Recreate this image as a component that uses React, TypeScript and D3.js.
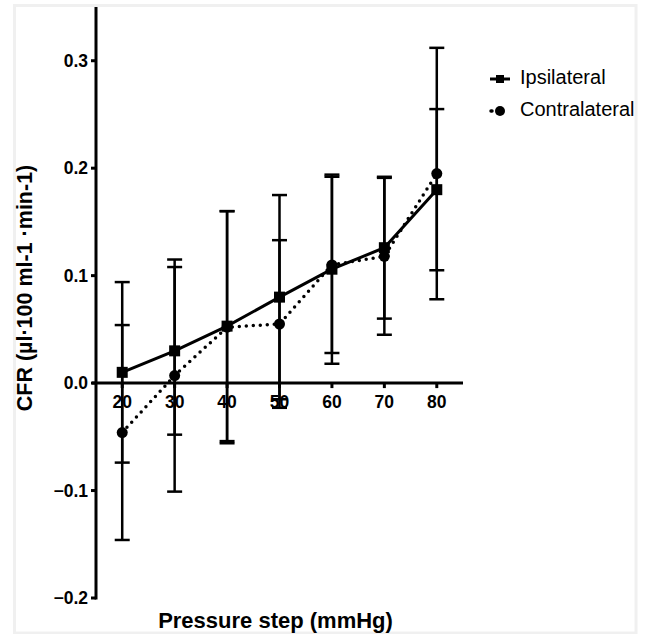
import React from "react";
import * as d3 from "d3";

const pressure = [20, 30, 40, 50, 60, 70, 80];
const ipsiMean = [0.010, 0.030, 0.053, 0.080, 0.106, 0.126, 0.180];
const ipsiErr = [0.084, 0.078, 0.107, 0.095, 0.088, 0.066, 0.075];
const contraMean = [-0.046, 0.007, 0.052, 0.055, 0.110, 0.118, 0.195];
const contraErr = [0.100, 0.108, 0.108, 0.078, 0.082, 0.073, 0.117];
const yTicks = [-0.2, -0.1, 0.0, 0.1, 0.2, 0.3];
const xTicks = [20, 30, 40, 50, 60, 70, 80];
const seriesNames = ["Ipsilateral", "Contralateral"];

const W = 646, H = 634;
const FONT = "'Liberation Sans', Arial, Helvetica, sans-serif";

export default function App() {
  const x = d3.scaleLinear().domain([15, 85]).range([96, 463]);
  const y = d3.scaleLinear().domain([-0.2, 0.35]).range([598, 7]);
  const line = d3.line<[number, number]>().x(d => x(d[0])).y(d => y(d[1]));
  const ipsi = pressure.map((p, i) => [p, ipsiMean[i]] as [number, number]);
  const contra = pressure.map((p, i) => [p, contraMean[i]] as [number, number]);
  const cap = 7.5;
  const sq = 11;

  const errBars = (means: number[], errs: number[], key: string) =>
    pressure.map((p, i) => {
      const cx = x(p);
      const hi = y(means[i] + errs[i]);
      const lo = y(means[i] - errs[i]);
      return (
        <g key={key + i} stroke="#000" strokeWidth={2.5}>
          <line x1={cx} x2={cx} y1={hi} y2={lo} />
          <line x1={cx - cap} x2={cx + cap} y1={hi} y2={hi} />
          <line x1={cx - cap} x2={cx + cap} y1={lo} y2={lo} />
        </g>
      );
    });

  return (
    <svg width={W} height={H} style={{ position: "absolute", left: 0, top: 0, background: "#fff" }}
      fontFamily={FONT}>
      <rect x={14.5} y={5.5} width={621.5} height={627.5} fill="#fff" stroke="#f0f0f0" strokeWidth={3} />
      {/* error bars */}
      {errBars(ipsiMean, ipsiErr, "i")}
      {errBars(contraMean, contraErr, "c")}
      {/* axes */}
      <line x1={96} x2={96} y1={y(0.35)} y2={y(-0.2) + 1.5} stroke="#000" strokeWidth={3} />
      <line x1={92} x2={463} y1={y(0)} y2={y(0)} stroke="#000" strokeWidth={3} />
      {yTicks.map(t => (
        <g key={"yt" + t}>
          <line x1={91} x2={96} y1={y(t)} y2={y(t)} stroke="#000" strokeWidth={3} />
          <text x={88} y={y(t)} textAnchor="end" dominantBaseline="central" fontWeight="bold" fontSize={17.5}>
            {d3.format(".1f")(t)}
          </text>
        </g>
      ))}
      {xTicks.map(t => (
        <g key={"xt" + t}>
          <line x1={x(t)} x2={x(t)} y1={y(0)} y2={y(0) + 5} stroke="#000" strokeWidth={3} />
          <text x={x(t)} y={402} textAnchor="middle" dominantBaseline="central" fontWeight="bold" fontSize={17.5}>
            {t}
          </text>
        </g>
      ))}
      {/* lines */}
      <path d={line(ipsi) || ""} fill="none" stroke="#000" strokeWidth={3} />
      <path d={line(contra) || ""} fill="none" stroke="#000" strokeWidth={3.5}
        strokeDasharray="0 7" strokeLinecap="round" />
      {/* markers */}
      {ipsi.map((d, i) => (
        <rect key={"s" + i} x={x(d[0]) - sq / 2} y={y(d[1]) - sq / 2} width={sq} height={sq} fill="#000" />
      ))}
      {contra.map((d, i) => (
        <circle key={"c" + i} cx={x(d[0])} cy={y(d[1])} r={5.5} fill="#000" />
      ))}
      {/* axis titles */}
      <text x={275.5} y={628} textAnchor="middle" fontWeight="bold" fontSize={22}>Pressure step (mmHg)</text>
      <text transform={`translate(32,288) rotate(-90)`} textAnchor="middle" fontWeight="bold" fontSize={21.5}>
        CFR (µl·100 ml-1 ·min-1)
      </text>
      {/* legend */}
      <g>
        <line x1={490} x2={510} y1={79} y2={79} stroke="#000" strokeWidth={3} />
        <rect x={496} y={75} width={8} height={8} fill="#000" />
        <text x={520} y={77} dominantBaseline="central" fontSize={20}>{seriesNames[0]}</text>
        <line x1={491} x2={492} y1={111} y2={111} stroke="#000" strokeWidth={3.5} strokeLinecap="round" />
        <circle cx={500} cy={111} r={5} fill="#000" />
        <text x={520} y={109} dominantBaseline="central" fontSize={20}>{seriesNames[1]}</text>
      </g>
    </svg>
  );
}
